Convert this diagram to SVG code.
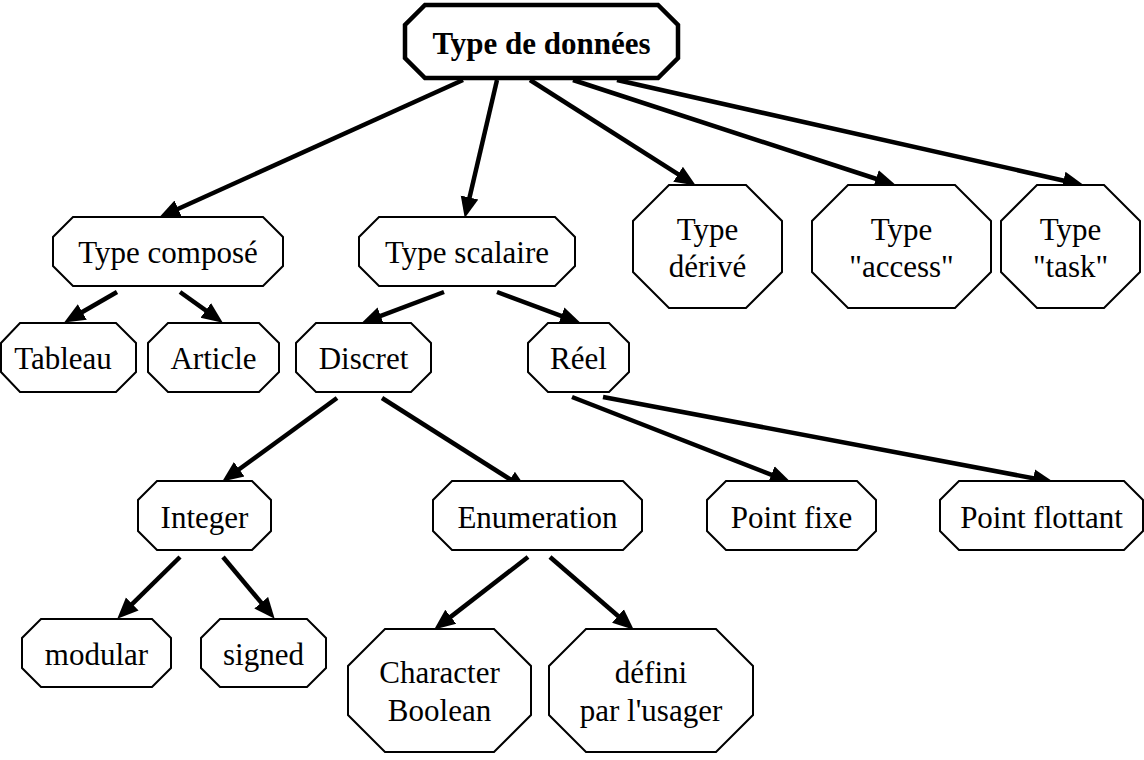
<svg xmlns="http://www.w3.org/2000/svg" width="1144" height="760" viewBox="0 0 1144 760">
<style>
.n{fill:#fff;stroke:#000;stroke-width:2}
.r{fill:#fff;stroke:#000;stroke-width:4.5}
.t{font-family:"Liberation Serif","Times New Roman",serif;font-size:31px;text-anchor:middle;fill:#000}
.b{font-weight:bold}
.e{stroke:#000;stroke-width:4.5;fill:none;marker-end:url(#ah)}
</style>
<defs>
<marker id="ah" markerUnits="userSpaceOnUse" markerWidth="22" markerHeight="20" refX="12" refY="10" orient="auto">
<path d="M0,1 L21,10 L0,19 z" fill="#000"/>
</marker>
</defs>
<rect width="1144" height="760" fill="#fff"/>
<g id="connectors">
<line class="e" x1="463" y1="80" x2="167.3" y2="213.7"/>
<line class="e" x1="497" y1="80" x2="466.8" y2="209.2"/>
<line class="e" x1="530" y1="80" x2="688.2" y2="180.7"/>
<line class="e" x1="573" y1="80" x2="887.4" y2="182.5"/>
<line class="e" x1="617" y1="80" x2="1075.2" y2="183.2"/>
<line class="e" x1="117" y1="292" x2="71.9" y2="318"/>
<line class="e" x1="180" y1="292" x2="215.5" y2="317.4"/>
<line class="e" x1="444" y1="292" x2="369.5" y2="320.2"/>
<line class="e" x1="497" y1="292" x2="572.5" y2="320.2"/>
<line class="e" x1="337" y1="398" x2="229.5" y2="476.3"/>
<line class="e" x1="382" y1="398" x2="520.2" y2="485.7"/>
<line class="e" x1="572" y1="397" x2="782.5" y2="479.1"/>
<line class="e" x1="603" y1="397" x2="1045.1" y2="480.5"/>
<line class="e" x1="180" y1="557" x2="123.7" y2="612.4"/>
<line class="e" x1="223" y1="557" x2="268.9" y2="611.9"/>
<line class="e" x1="528" y1="557" x2="441.3" y2="624.1"/>
<line class="e" x1="550" y1="557" x2="627" y2="623.8"/>
</g>
<g id="root">
<polygon class="r" points="425,5 658,5 678,25 678,58 658,78 425,78 405,58 405,25"/>
<text class="t b" x="541.5" y="54">Type de données</text>
</g>
<g id="compose">
<polygon class="n" points="73,217 263,217 283,237 283,266 263,286 73,286 53,266 53,237"/>
<text class="t" x="168" y="263">Type composé</text>
</g>
<g id="scalaire">
<polygon class="n" points="379,217 555,217 575,237 575,266 555,286 379,286 359,266 359,237"/>
<text class="t" x="467" y="263">Type scalaire</text>
</g>
<g id="derive">
<polygon class="n" points="669,185 746,185 782,221 782,272 746,308 669,308 633,272 633,221"/>
<text class="t" x="707.5" y="240">Type</text>
<text class="t" x="707.5" y="277">dérivé</text>
</g>
<g id="access">
<polygon class="n" points="848,185 955,185 991,221 991,272 955,308 848,308 812,272 812,221"/>
<text class="t" x="901.5" y="240">Type</text>
<text class="t" x="901.5" y="277">"access"</text>
</g>
<g id="task">
<polygon class="n" points="1037,185 1104,185 1140,221 1140,272 1104,308 1037,308 1001,272 1001,221"/>
<text class="t" x="1070.5" y="240">Type</text>
<text class="t" x="1070.5" y="277">"task"</text>
</g>
<g id="tableau">
<polygon class="n" points="20,323 116,323 136,343 136,372 116,392 20,392 1,372 1,343"/>
<text class="t" x="63" y="369">Tableau</text>
</g>
<g id="article">
<polygon class="n" points="168,323 259,323 279,343 279,372 259,392 168,392 148,372 148,343"/>
<text class="t" x="213.5" y="369">Article</text>
</g>
<g id="discret">
<polygon class="n" points="316,323 411,323 431,343 431,372 411,392 316,392 296,372 296,343"/>
<text class="t" x="363.5" y="369">Discret</text>
</g>
<g id="reel">
<polygon class="n" points="548,323 609,323 629,343 629,372 609,392 548,392 528,372 528,343"/>
<text class="t" x="578.5" y="369">Réel</text>
</g>
<g id="integer">
<polygon class="n" points="157,481 252,481 271,500 271,531 252,550 157,550 138,531 138,500"/>
<text class="t" x="204.5" y="528">Integer</text>
</g>
<g id="enumeration">
<polygon class="n" points="452,481 623,481 642,500 642,531 623,550 452,550 433,531 433,500"/>
<text class="t" x="537.5" y="528">Enumeration</text>
</g>
<g id="pointfixe">
<polygon class="n" points="726,481 857,481 876,500 876,531 857,550 726,550 707,531 707,500"/>
<text class="t" x="791.5" y="528">Point fixe</text>
</g>
<g id="pointflottant">
<polygon class="n" points="959,481 1124,481 1143,500 1143,531 1124,550 959,550 940,531 940,500"/>
<text class="t" x="1041.5" y="528">Point flottant</text>
</g>
<g id="modular">
<polygon class="n" points="41,619 152,619 171,638 171,668 152,687 41,687 22,668 22,638"/>
<text class="t" x="96.5" y="665">modular</text>
</g>
<g id="signed">
<polygon class="n" points="220,619 307,619 326,638 326,668 307,687 220,687 201,668 201,638"/>
<text class="t" x="263.5" y="665">signed</text>
</g>
<g id="character">
<polygon class="n" points="385,629 494,629 531,666 531,715 494,752 385,752 348,715 348,666"/>
<text class="t" x="439.5" y="683">Character</text>
<text class="t" x="439.5" y="721">Boolean</text>
</g>
<g id="defini">
<polygon class="n" points="586,629 716,629 753,666 753,715 716,752 586,752 549,715 549,666"/>
<text class="t" x="651" y="683">défini</text>
<text class="t" x="651" y="721">par l'usager</text>
</g>
</svg>
